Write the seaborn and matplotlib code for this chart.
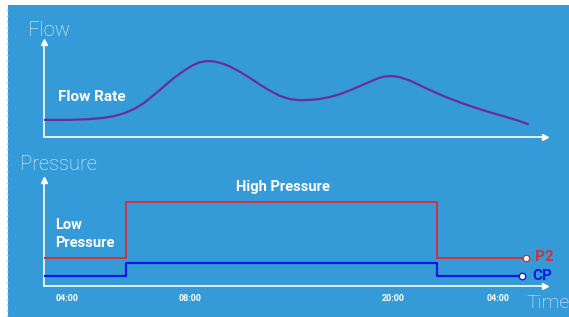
import numpy as np
import pandas as pd
import matplotlib
matplotlib.use("Agg")
import matplotlib.pyplot as plt
import seaborn as sns

sns.set_theme(style="white")
plt.rcParams['font.family'] = ['Roboto', 'DejaVu Sans']

# time axis in relative units (0..100 across the axis)
tick_pos = [4.6, 29.1, 69.7, 90.6]
tick_labels = ['04:00', '08:00', '20:00', '04:00']

# flow rate curve
flow_t = [0, 5, 9, 12, 14, 16, 18, 20, 22, 24, 26, 28, 29.5, 31, 32.5, 34, 35.5, 37, 39, 41, 43,
          45, 47, 49, 51, 53, 55, 57, 59, 61, 63, 65, 66.5, 68, 69.5, 71, 73, 75, 77, 80, 83,
          86, 89, 92, 94.5, 96.6]
flow_v = [1.8, 1.8, 1.88, 2.02, 2.2, 2.5, 2.95, 3.6, 4.45, 5.35, 6.25, 7.0, 7.5, 7.85, 8.0, 7.95, 7.75, 7.45,
          6.9, 6.25, 5.55, 4.9, 4.35, 4.0, 3.88, 3.9, 4.0, 4.2, 4.5, 4.9, 5.35, 5.8, 6.15, 6.38, 6.42,
          6.3, 5.95, 5.45, 4.95, 4.25, 3.65, 3.1, 2.6, 2.15, 1.75, 1.35]

# pressure steps
p2_t = [0, 16.4, 78.4, 96.2]
p2_v = [2.64, 7.92, 2.64, 2.64]
cp_t = [0, 16.4, 78.4, 95.4]
cp_v = [0.94, 2.17, 0.94, 0.94]

bg = '#359BD8'
purple = '#6B2D9C'
red = '#C9363F'
blue = '#0A18E8'
W, H = 569, 317

fig = plt.figure(figsize=(W / 100, H / 100), dpi=100)
fig.patch.set_facecolor('white')
fig.patches.append(plt.Rectangle((8 / W, 0), 1 - 8 / W, (H - 5) / H, transform=fig.transFigure,
                                 facecolor=bg, edgecolor='none', zorder=-5))
fig.lines.append(plt.Line2D([7 / W, 7 / W], [0, (H - 5) / H], transform=fig.transFigure,
                            color='#BFD9EE', lw=1, ls=(0, (1.5, 2.5)), zorder=-4))

ax1 = fig.add_axes([44 / W, (H - 137) / H, (545 - 44) / W, (137 - 42) / H])
ax2 = fig.add_axes([44 / W, (H - 286) / H, (545 - 44) / W, (286 - 180) / H])

for ax in (ax1, ax2):
    ax.set_facecolor('none')
    for s in ax.spines.values():
        s.set_visible(False)
    ax.set_yticks([])
    ax.plot([0, 0], [0, 1], color='white', lw=1.2, transform=ax.transAxes, clip_on=False)
    ax.plot([0, 1], [0, 0], color='white', lw=1.2, transform=ax.transAxes, clip_on=False)
    ax.plot([0], [1], marker='^', color='white', ms=4, transform=ax.transAxes, clip_on=False)
    ax.plot([1], [0], marker='>', color='white', ms=4, transform=ax.transAxes, clip_on=False)

ax1.set_xticks([])
sns.lineplot(x=flow_t, y=flow_v, ax=ax1, color=purple, lw=1.6)

sns.lineplot(x=p2_t, y=p2_v, ax=ax2, color=red, lw=1.5, drawstyle='steps-post')
sns.lineplot(x=cp_t, y=cp_v, ax=ax2, color=blue, lw=1.6, drawstyle='steps-post')
ax2.scatter([p2_t[-1]], [p2_v[-1]], s=22, facecolor='white', edgecolor=red, lw=1, zorder=5, clip_on=False)
ax2.scatter([cp_t[-1]], [cp_v[-1]], s=22, facecolor='white', edgecolor=blue, lw=1, zorder=5, clip_on=False)

for ax in (ax1, ax2):
    ax.set_xlim(0, 100)
    ax.set_ylim(0, 10)
    ax.set_xlabel('')
    ax.set_ylabel('')

ax2.set_xticks(tick_pos)
ax2.set_xticklabels(tick_labels, color='white', fontsize=6.5, fontweight='bold')
ax2.tick_params(axis='x', length=4, width=1, color='white', direction='in', pad=6)

# text
fig.text(28 / W, 1 - 30 / H, 'Flow', color='#E6F2FB', fontsize=14.5, fontweight='light', va='center')
fig.text(20 / W, 1 - 164 / H, 'Pressure', color='#E6F2FB', fontsize=14.5, fontweight='light', va='center')
fig.text(526 / W, 1 - 303 / H, 'Time', color='#E6F2FB', fontsize=14, fontweight='light', va='center')
fig.text(58 / W, 1 - 97 / H, 'Flow Rate', color='white', fontsize=11, fontweight='bold', va='center')
fig.text(283 / W, 1 - 187 / H, 'High Pressure', color='white', fontsize=10.5, fontweight='bold',
         va='center', ha='center')
fig.text(55 / W, 1 - 234 / H, 'Low\nPressure', color='white', fontsize=10.5, fontweight='bold',
         va='center', linespacing=1.3)
fig.text(535 / W, 1 - 257 / H, 'P2', color=red, fontsize=11, fontweight='bold', va='center')
fig.text(532 / W, 1 - 276 / H, 'CP', color=blue, fontsize=11, fontweight='bold', va='center')

fig.savefig('out.png', dpi=100, facecolor=fig.get_facecolor())
